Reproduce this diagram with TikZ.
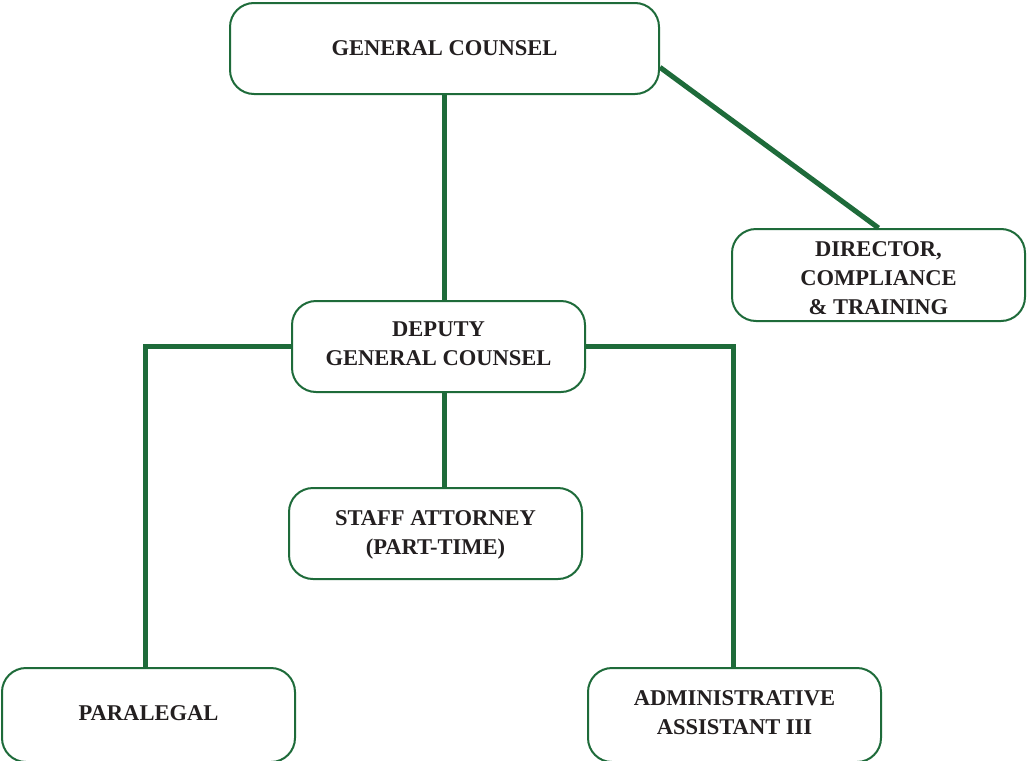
\documentclass[tikz,border=0pt]{standalone}
\usepackage{fontspec}
\setmainfont{Liberation Serif}
\definecolor{orgGreen}{HTML}{1E6B3A}
\definecolor{orgText}{HTML}{231F20}
\newcommand\orgtxt[2]{\raisebox{#1}[\height][\depth]{\begin{tabular}{@{}c@{}}#2\end{tabular}}}
\begin{document}
\begin{tikzpicture}[x=0.75pt,y=-0.75pt,
  orgbox/.style={draw=orgGreen,line width=1.5pt,rounded corners=18pt,fill=white,
    minimum width=#1*0.75pt,inner sep=0pt,align=center,text=orgText,
    font=\fontsize{16.9}{21.75}\selectfont\bfseries},
  link/.style={draw=orgGreen,line width=3.8pt}]
\useasboundingbox (0,0) rectangle (1027,760);
\begin{scope}
\clip (0,0) rectangle (1027,760);
\node[orgbox=429,minimum height=68.25pt] (gc) at (444.5,48.5) {GENERAL COUNSEL};
\node[orgbox=293,minimum height=69pt] (dir) at (878.5,275) {\orgtxt{-3.75pt}{DIRECTOR,\\COMPLIANCE\\\&~TRAINING}};
\node[orgbox=293,minimum height=68.25pt] (dep) at (438.5,346.5) {\orgtxt{0.75pt}{DEPUTY\\GENERAL COUNSEL}};
\node[orgbox=293,minimum height=68.25pt] (staff) at (435.5,533.5) {\orgtxt{-0.75pt}{STAFF ATTORNEY\\(PART-TIME)}};
\node[orgbox=293,minimum height=70.5pt] (para) at (148.5,715) {\orgtxt{0pt}{PARALEGAL}};
\node[orgbox=293,minimum height=70.5pt] (adm) at (734.5,715) {\orgtxt{0.75pt}{ADMINISTRATIVE\\ASSISTANT III}};
\path[link] (gc.south) -- (gc.south |- dep.north);
\path[link] (gc.-5.2) -- (dir.north);
\path[link] (dep.west) -| ([xshift=-2.6pt]para.north);
\path[link] (dep.east) -| ([xshift=-1.1pt]adm.north);
\path[link] (gc.south |- dep.south) -- (gc.south |- staff.north);
\end{scope}
\end{tikzpicture}
\end{document}
